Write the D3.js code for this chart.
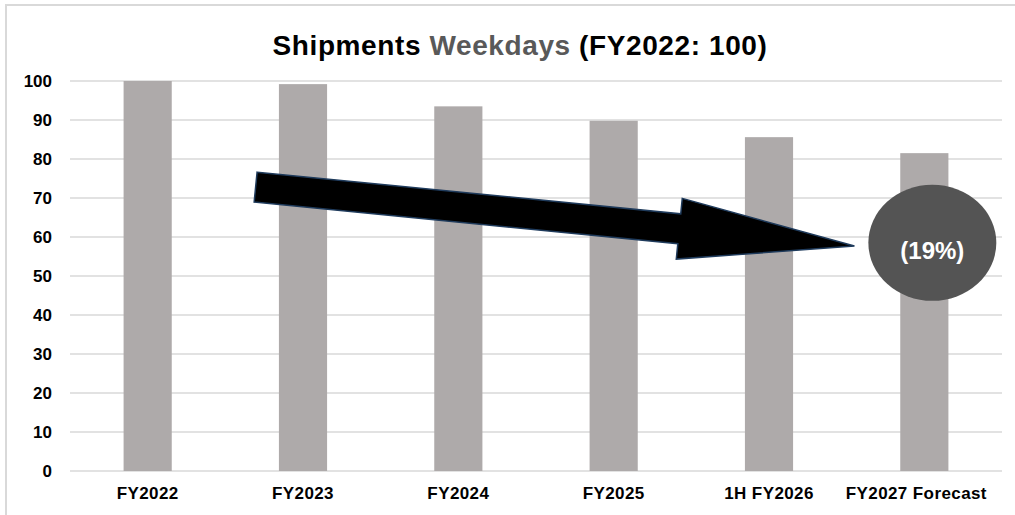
<!DOCTYPE html>
<html>
<head>
<meta charset="utf-8">
<script src="https://cdn.jsdelivr.net/npm/d3@7"></script>
<style>
  body { margin: 0; background: #fff; }
  svg { display: block; font-family: "Liberation Sans", Arial, sans-serif; }
</style>
</head>
<body>
<svg id="chart"></svg>
<script>
// Data
const categories = ["FY2022", "FY2023", "FY2024", "FY2025", "1H FY2026", "FY2027 Forecast"];
const values = [100, 99.2, 93.5, 89.8, 85.6, 81.5];
const yTicks = [0, 10, 20, 30, 40, 50, 60, 70, 80, 90, 100];
const changeLabel = "(19%)";
// arrow anchors: [category index, value]
const arrowFrom = [0.695, 72.8];
const arrowTo = [4.55, 57.7];

const W = 1015, H = 515;
const margin = {left: 70, top: 81, right: 13, bottom: 43};

const svg = d3.select("#chart").attr("width", W).attr("height", H);

// outer border (top + left visible)
svg.append("path")
  .attr("d", `M6,${H} L6,5 L${W},5`)
  .attr("fill", "none").attr("stroke", "#d9d9d9").attr("stroke-width", 2);

const x = d3.scaleBand().domain(categories).range([margin.left, W - margin.right]).paddingInner(0.69).paddingOuter(0.345);
const y = d3.scaleLinear().domain([0, 100]).range([H - margin.bottom - 1, margin.top]);

// gridlines
svg.append("g").attr("class", "grid")
  .selectAll("line").data(yTicks).join("line")
  .attr("x1", margin.left).attr("x2", W - margin.right)
  .attr("y1", d => y(d)).attr("y2", d => y(d))
  .attr("stroke", "#d9d9d9").attr("stroke-width", 1.5);

// y axis labels
const yAxis = svg.append("g").attr("transform", `translate(${margin.left}, 0)`)
  .call(d3.axisLeft(y).tickValues(yTicks).tickSize(0).tickPadding(18));
yAxis.select(".domain").remove();
yAxis.selectAll("text").attr("font-size", 17).attr("font-weight", "bold").attr("fill", "#000")
  .attr("font-family", "Liberation Sans, Arial, sans-serif");

// bars
svg.append("g").selectAll("rect").data(values).join("rect")
  .attr("x", (d, i) => x(categories[i]))
  .attr("width", x.bandwidth())
  .attr("y", d => y(d))
  .attr("height", d => y(0) - y(d))
  .attr("fill", "#aeaaaa");

// x axis labels
const xAxis = svg.append("g").attr("transform", `translate(0, ${y(0)})`)
  .call(d3.axisBottom(x).tickSize(0).tickPadding(16));
xAxis.select(".domain").remove();
xAxis.selectAll("text").attr("font-size", 17).attr("font-weight", "bold").attr("fill", "#000")
  .attr("letter-spacing", 0.4)
  .attr("font-family", "Liberation Sans, Arial, sans-serif");
// last label is nudged left so it stays inside the chart
xAxis.selectAll(".tick").filter(d => d === categories[categories.length - 1])
  .select("text").attr("dx", -8);

// title
const title = svg.append("text")
  .attr("x", 520).attr("y", 55)
  .attr("text-anchor", "middle")
  .attr("font-size", 28).attr("font-weight", "bold")
  .attr("letter-spacing", 0.6);
title.append("tspan").text("Shipments ").attr("fill", "#000");
title.append("tspan").text("Weekdays ").attr("fill", "#595959");
title.append("tspan").text("(FY2022: 100)").attr("fill", "#000");

// arrow annotation
const xi = d3.scaleLinear().domain([0, categories.length - 1])
  .range([x(categories[0]) + x.bandwidth() / 2, x(categories[categories.length - 1]) + x.bandwidth() / 2]);
const p0 = [xi(arrowFrom[0]), y(arrowFrom[1])];
const p1 = [xi(arrowTo[0]), y(arrowTo[1])];
const dx = p1[0] - p0[0], dy = p1[1] - p0[1];
const len = Math.hypot(dx, dy);
const ux = dx / len, uy = dy / len, nx = -uy, ny = ux;
const shaftHalf = 15, headHalf = 30.5, headLen = 176;
const pt = (along, across) => [p0[0] + ux * along + nx * across, p0[1] + uy * along + ny * across];
const arrowPts = [
  pt(0, -shaftHalf), pt(len - headLen, -shaftHalf), pt(len - headLen, -headHalf),
  pt(len, 0),
  pt(len - headLen, headHalf), pt(len - headLen, shaftHalf), pt(0, shaftHalf)
];
svg.append("polygon")
  .attr("points", arrowPts.map(p => p.join(",")).join(" "))
  .attr("fill", "#000").attr("stroke", "#1f3b5c").attr("stroke-width", 1.5)
  .attr("stroke-linejoin", "miter");

// percentage bubble
const last = categories[categories.length - 1];
const cx = x(last) + x.bandwidth() / 2 + 8;
const cy = y(58.5);
svg.append("ellipse")
  .attr("cx", cx).attr("cy", cy).attr("rx", 64).attr("ry", 58)
  .attr("fill", "#545454");
svg.append("text")
  .attr("x", cx).attr("y", cy + 16)
  .attr("text-anchor", "middle")
  .attr("font-size", 24).attr("font-weight", "bold").attr("fill", "#fff")
  .text(changeLabel);
</script>
</body>
</html>
